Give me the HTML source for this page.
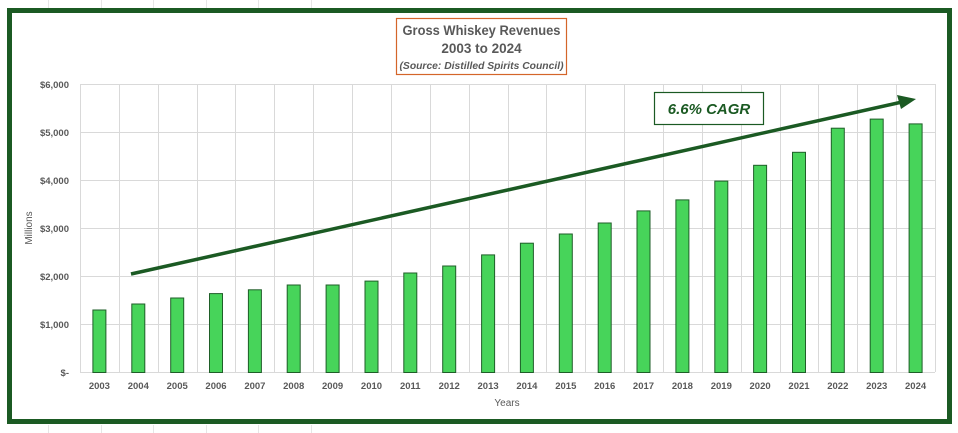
<!DOCTYPE html>
<html><head><meta charset="utf-8"><style>
html,body{margin:0;padding:0;background:#fff;}
svg{display:block;font-family:"Liberation Sans",sans-serif;}
</style></head><body>
<svg width="958" height="433" viewBox="0 0 958 433" xmlns="http://www.w3.org/2000/svg">
<g stroke="#e6e6e6" stroke-width="1">
<line x1="48.5" y1="0" x2="48.5" y2="8"/><line x1="101.5" y1="0" x2="101.5" y2="8"/><line x1="153.5" y1="0" x2="153.5" y2="8"/><line x1="206.5" y1="0" x2="206.5" y2="8"/><line x1="258.5" y1="0" x2="258.5" y2="8"/><line x1="311.5" y1="0" x2="311.5" y2="8"/>
<line x1="48.5" y1="425" x2="48.5" y2="433"/><line x1="101.5" y1="425" x2="101.5" y2="433"/><line x1="153.5" y1="425" x2="153.5" y2="433"/><line x1="206.5" y1="425" x2="206.5" y2="433"/><line x1="258.5" y1="425" x2="258.5" y2="433"/><line x1="311.5" y1="425" x2="311.5" y2="433"/>
</g>
<rect x="9.5" y="10.5" width="940" height="411" fill="#fff" stroke="#1b5a23" stroke-width="5"/>
<g stroke="#d9d9d9" stroke-width="1">
<line x1="80" x2="935" y1="372.5" y2="372.5"/><line x1="80" x2="935" y1="324.5" y2="324.5"/><line x1="80" x2="935" y1="276.5" y2="276.5"/><line x1="80" x2="935" y1="228.5" y2="228.5"/><line x1="80" x2="935" y1="180.5" y2="180.5"/><line x1="80" x2="935" y1="132.5" y2="132.5"/><line x1="80" x2="935" y1="84.5" y2="84.5"/>
<path d="M80.5 84V372M119.5 84V372M158.5 84V372M197.5 84V372M235.5 84V372M274.5 84V372M313.5 84V372M352.5 84V372M391.5 84V372M430.5 84V372M469.5 84V372M508.5 84V372M546.5 84V372M585.5 84V372M624.5 84V372M663.5 84V372M702.5 84V372M741.5 84V372M780.5 84V372M818.5 84V372M857.5 84V372M896.5 84V372M935.5 84V372" fill="none"/>
</g>
<g fill="#47d45a" stroke="#1f5e28" stroke-width="1">
<rect x="92.9" y="310" width="13" height="62.5"/>
<rect x="131.8" y="304" width="13" height="68.5"/>
<rect x="170.7" y="298" width="13" height="74.5"/>
<rect x="209.5" y="293.6" width="13" height="78.9"/>
<rect x="248.4" y="289.8" width="13" height="82.7"/>
<rect x="287.2" y="285" width="13" height="87.5"/>
<rect x="326.1" y="285" width="13" height="87.5"/>
<rect x="365" y="281.1" width="13" height="91.4"/>
<rect x="403.8" y="273" width="13" height="99.5"/>
<rect x="442.7" y="266" width="13" height="106.5"/>
<rect x="481.6" y="254.9" width="13" height="117.6"/>
<rect x="520.4" y="243.2" width="13" height="129.3"/>
<rect x="559.3" y="234" width="13" height="138.5"/>
<rect x="598.2" y="223" width="13" height="149.5"/>
<rect x="637" y="210.9" width="13" height="161.6"/>
<rect x="675.9" y="199.9" width="13" height="172.6"/>
<rect x="714.8" y="181.1" width="13" height="191.4"/>
<rect x="753.6" y="165.3" width="13" height="207.2"/>
<rect x="792.5" y="152.3" width="13" height="220.2"/>
<rect x="831.3" y="128.2" width="13" height="244.3"/>
<rect x="870.2" y="119.1" width="13" height="253.4"/>
<rect x="909.1" y="123.9" width="13" height="248.6"/>
</g>
<g font-size="9.5" font-weight="bold" fill="#595959" text-anchor="end">
<text x="69" y="376">$-</text><text x="69" y="328">$1,000</text><text x="69" y="280">$2,000</text><text x="69" y="232">$3,000</text><text x="69" y="184">$4,000</text><text x="69" y="136">$5,000</text><text x="69" y="88">$6,000</text>
</g>
<g font-size="9.5" font-weight="bold" fill="#595959" text-anchor="middle">
<text x="99.4" y="389">2003</text><text x="138.3" y="389">2004</text><text x="177.2" y="389">2005</text><text x="216" y="389">2006</text><text x="254.9" y="389">2007</text><text x="293.7" y="389">2008</text><text x="332.6" y="389">2009</text><text x="371.5" y="389">2010</text><text x="410.3" y="389">2011</text><text x="449.2" y="389">2012</text><text x="488.1" y="389">2013</text><text x="526.9" y="389">2014</text><text x="565.8" y="389">2015</text><text x="604.7" y="389">2016</text><text x="643.5" y="389">2017</text><text x="682.4" y="389">2018</text><text x="721.3" y="389">2019</text><text x="760.1" y="389">2020</text><text x="799" y="389">2021</text><text x="837.8" y="389">2022</text><text x="876.7" y="389">2023</text><text x="915.6" y="389">2024</text>
</g>
<text x="32" y="228" font-size="10" fill="#595959" text-anchor="middle" transform="rotate(-90 32 228)">Millions</text>
<text x="507" y="406" font-size="10" fill="#595959" text-anchor="middle">Years</text>
<rect x="396.5" y="18.5" width="170" height="56" fill="#fff" stroke="#d4652a" stroke-width="1.2"/>
<text x="481.5" y="35" font-size="13.5" font-weight="bold" fill="#595959" text-anchor="middle" textLength="158" lengthAdjust="spacingAndGlyphs">Gross Whiskey Revenues</text>
<text x="481.5" y="53" font-size="13.5" font-weight="bold" fill="#595959" text-anchor="middle">2003 to 2024</text>
<text x="481.5" y="69" font-size="10" font-weight="bold" font-style="italic" fill="#595959" text-anchor="middle" textLength="164" lengthAdjust="spacingAndGlyphs">(Source: Distilled Spirits Council)</text>
<line x1="131" y1="274" x2="902" y2="102" stroke="#1b5a23" stroke-width="3.5"/>
<polygon points="916,99 897,95 901,109" fill="#1b5a23"/>
<rect x="654.5" y="92.5" width="109" height="32" fill="#fff" stroke="#1b5a23" stroke-width="1.2"/>
<text x="709" y="114" font-size="15" font-weight="bold" font-style="italic" fill="#1b5a23" text-anchor="middle">6.6% CAGR</text>
</svg>
</body></html>
